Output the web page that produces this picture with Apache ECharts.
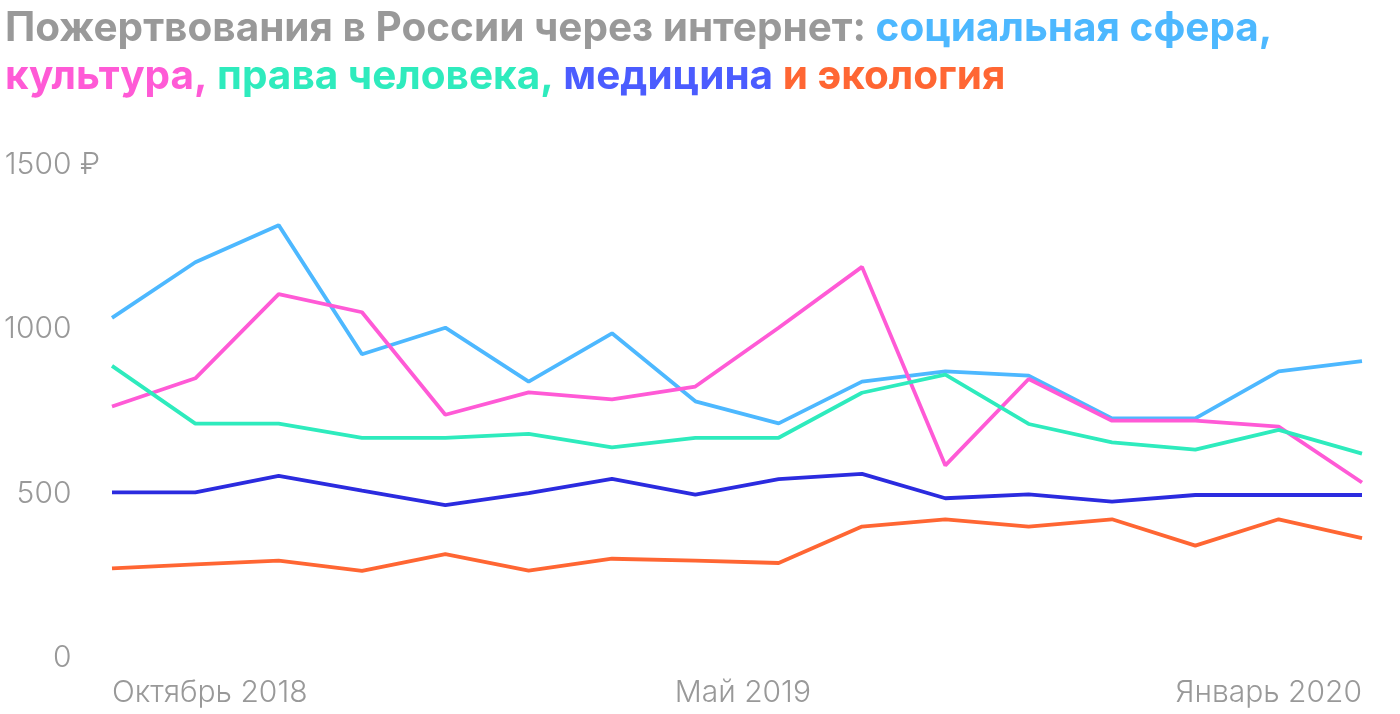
<!DOCTYPE html>
<html>
<head>
<meta charset="utf-8">
<script src="https://cdn.jsdelivr.net/npm/echarts@6/dist/echarts.min.js"></script>
<style>
html,body{margin:0;padding:0;background:#fff;}
#chart{width:1400px;height:714px;}
</style>
</head>
<body>
<div id="chart"></div>
<script>
const categories = ['Октябрь 2018','Ноябрь 2018','Декабрь 2018','Январь 2019','Февраль 2019','Март 2019','Апрель 2019','Май 2019','Июнь 2019','Июль 2019','Август 2019','Сентябрь 2019','Октябрь 2019','Ноябрь 2019','Декабрь 2019','Январь 2020'];
const shownLabels = {0: 'Октябрь 2018', 7: 'Май 2019', 15: 'Январь 2020'};
const social   = [1035, 1204, 1317, 924, 1005, 841, 988, 781, 714, 841, 872, 859, 729, 729, 872, 903];
const culture  = [765, 851, 1107, 1052, 740, 808, 787, 826, 1005, 1190, 586, 849, 722, 722, 704, 534];
const rights   = [889, 713, 713, 670, 670, 682, 641, 670, 670, 807, 862, 712, 656, 634, 694, 622];
const medicine = [504, 504, 554, 509, 465, 502, 545, 497, 544, 560, 486, 498, 476, 496, 496, 496];
const ecology  = [273, 285, 296, 265, 316, 266, 302, 296, 289, 400, 422, 400, 422, 342, 422, 365];
const yTicks = [0, 500, 1000, 1500];
const currency = '₽';

const C = {gray:'#999999', social:'#4db8ff', culture:'#ff5ad6', rights:'#2eebbd', medicineTitle:'#4b5cff', medicine:'#2b2bdf', ecology:'#ff6633'};
const titleFont = {fontFamily:'Inter', fontWeight:'bold', fontSize:40.5, lineHeight:48};
function tk(color){ return Object.assign({color}, titleFont); }
const labelFont = {fontFamily:'Inter', fontWeight:300, fontSize:30};

const xData = categories.map((c, i) => {
  const item = {value: c};
  if (i === 0) item.textStyle = {align: 'left'};
  if (i === categories.length - 1) item.textStyle = {align: 'right'};
  return item;
});

const chart = echarts.init(document.getElementById('chart'));
const lineW = 3.8;
function mk(name, data, color){
  return {name, type:'line', data, symbol:'none', smooth:false, lineStyle:{width:lineW, color}, itemStyle:{color}, emphasis:{disabled:true}};
}
chart.setOption({
  animation:false,
  title:{
    left:0, top:0,
    text:'{g|Пожертвования в России через интернет: }{b|социальная сфера,}\n{p|культура,}{g| }{gr|права человека,}{g| }{m|медицина}{g| }{o|и экология}',
    textStyle:{rich:{g:tk(C.gray), b:tk(C.social), p:tk(C.culture), gr:tk(C.rights), m:tk(C.medicineTitle), o:tk(C.ecology)}}
  },
  grid:{left:112, right:38, top:165, bottom:56, containLabel:false},
  xAxis:{
    type:'category', boundaryGap:false, data:xData,
    axisLine:{show:false}, axisTick:{show:false}, splitLine:{show:false},
    axisLabel:Object.assign({
      interval:0, margin:20, color:C.gray,
      formatter:(v, i) => {
        if (!(i in shownLabels)) return '';
        if (i === 7) return '{sp|}' + shownLabels[i];
        return shownLabels[i];
      },
      rich:{sp:{width:95}}
    }, labelFont)
  },
  yAxis:{
    type:'value', min:0, max:1500, interval:500,
    axisLine:{show:false}, axisTick:{show:false}, splitLine:{show:false},
    axisLabel:Object.assign({
      margin:12, color:C.gray, align:'right',
      formatter:(v) => v === yTicks[yTicks.length-1] ? '{n|' + v + '}{r| ' + currency + '}' : '{n|' + v + '}{h| ' + currency + '}',
      rich:{
        n:Object.assign({color:C.gray}, labelFont),
        r:Object.assign({color:C.gray}, labelFont),
        h:Object.assign({color:'rgba(0,0,0,0)'}, labelFont)
      }
    }, labelFont)
  },
  series:[
    mk('социальная сфера', social, C.social),
    mk('культура', culture, C.culture),
    mk('права человека', rights, C.rights),
    mk('медицина', medicine, C.medicine),
    mk('экология', ecology, C.ecology)
  ]
});
</script>
</body>
</html>
